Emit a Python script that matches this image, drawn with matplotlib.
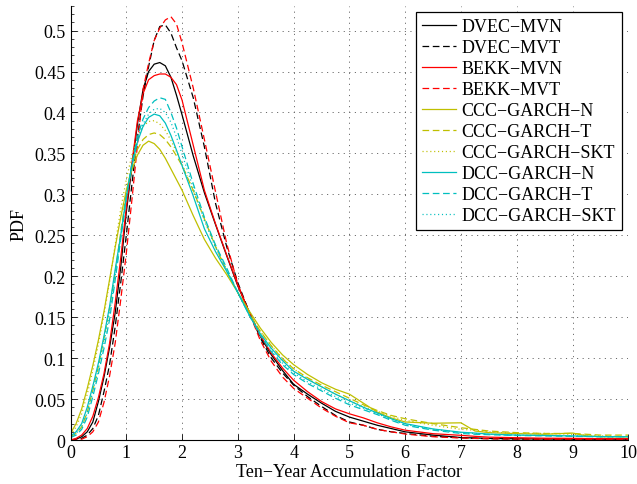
import matplotlib

matplotlib.use("Agg")
import matplotlib.pyplot as plt  # noqa: E402
from matplotlib.ticker import MultipleLocator  # noqa: E402

plt.rcParams["font.family"] = ["Liberation Serif", "DejaVu Serif"]
plt.rcParams["lines.scale_dashes"] = False

# accumulation factor grid shared by all density estimates
x_grid = [0.0, 0.1, 0.2, 0.3, 0.4, 0.5, 0.6, 0.7, 0.8, 0.9,
          1.0, 1.1, 1.2, 1.3, 1.4, 1.5, 1.6, 1.7, 1.8, 1.9,
          2.0, 2.2, 2.4, 2.6, 2.8, 3.0, 3.2, 3.4, 3.6, 3.8,
          4.0, 4.25, 4.5, 4.75, 5.0, 5.25, 5.5, 5.75, 6.0, 6.5,
          7.0, 7.25, 7.5, 8.0, 8.5, 9.0, 9.25, 9.5, 10.0]

dvec_mvn = [0.0, 0.001, 0.004, 0.010, 0.022, 0.047, 0.077, 0.113, 0.155, 0.211,
            0.278, 0.333, 0.386, 0.428, 0.450, 0.459, 0.461, 0.457, 0.443, 0.421,
            0.397, 0.347, 0.302, 0.263, 0.225, 0.188, 0.157, 0.127, 0.104, 0.085,
            0.068, 0.056, 0.045, 0.035, 0.028, 0.023, 0.018, 0.014, 0.010, 0.006,
            0.003, 0.0025, 0.002, 0.0015, 0.0012, 0.001, 0.001, 0.001, 0.001]
dvec_mvt = [0.0, 0.0, 0.002, 0.006, 0.014, 0.030, 0.059, 0.092, 0.138, 0.192,
            0.250, 0.312, 0.370, 0.420, 0.456, 0.488, 0.505, 0.507, 0.497, 0.479,
            0.463, 0.418, 0.358, 0.289, 0.236, 0.192, 0.157, 0.125, 0.100, 0.082,
            0.067, 0.053, 0.041, 0.030, 0.022, 0.018, 0.013, 0.010, 0.008, 0.0045,
            0.0028, 0.002, 0.0016, 0.0012, 0.001, 0.001, 0.001, 0.001, 0.001]
bekk_mvn = [0.0, 0.002, 0.006, 0.014, 0.029, 0.052, 0.081, 0.118, 0.167, 0.222,
            0.284, 0.338, 0.390, 0.423, 0.440, 0.445, 0.447, 0.447, 0.443, 0.434,
            0.415, 0.360, 0.305, 0.264, 0.226, 0.189, 0.156, 0.128, 0.106, 0.088,
            0.073, 0.059, 0.047, 0.038, 0.032, 0.027, 0.021, 0.016, 0.012, 0.0077,
            0.0057, 0.0045, 0.0035, 0.0028, 0.0022, 0.002, 0.0018, 0.0016, 0.0016]
bekk_mvt = [0.0, 0.0, 0.001, 0.004, 0.010, 0.022, 0.046, 0.078, 0.118, 0.171,
            0.228, 0.293, 0.360, 0.428, 0.460, 0.488, 0.503, 0.513, 0.517, 0.508,
            0.485, 0.430, 0.367, 0.303, 0.240, 0.190, 0.156, 0.122, 0.096, 0.077,
            0.063, 0.051, 0.039, 0.029, 0.021, 0.018, 0.013, 0.010, 0.0073, 0.004,
            0.0024, 0.002, 0.0015, 0.0012, 0.001, 0.001, 0.001, 0.001, 0.001]
ccc_n = [0.008, 0.020, 0.038, 0.063, 0.091, 0.122, 0.157, 0.196, 0.235, 0.272,
         0.305, 0.330, 0.348, 0.360, 0.365, 0.362, 0.355, 0.344, 0.331, 0.318,
         0.305, 0.274, 0.245, 0.222, 0.202, 0.180, 0.158, 0.137, 0.119, 0.104,
         0.092, 0.080, 0.070, 0.062, 0.056, 0.045, 0.034, 0.027, 0.022, 0.0205,
         0.021, 0.011, 0.009, 0.0078, 0.007, 0.0085, 0.005, 0.004, 0.004]
ccc_t = [0.004, 0.008, 0.016, 0.034, 0.061, 0.090, 0.124, 0.161, 0.204, 0.254,
         0.302, 0.335, 0.355, 0.367, 0.373, 0.375, 0.373, 0.367, 0.358, 0.347,
         0.335, 0.305, 0.270, 0.236, 0.206, 0.180, 0.155, 0.133, 0.115, 0.099,
         0.087, 0.076, 0.067, 0.059, 0.051, 0.043, 0.036, 0.030, 0.026, 0.020,
         0.015, 0.013, 0.011, 0.009, 0.008, 0.008, 0.007, 0.006, 0.006]
ccc_skt = [0.006, 0.016, 0.032, 0.056, 0.085, 0.117, 0.153, 0.193, 0.238, 0.282,
           0.318, 0.348, 0.370, 0.383, 0.389, 0.390, 0.386, 0.378, 0.366, 0.352,
           0.337, 0.304, 0.270, 0.237, 0.207, 0.180, 0.155, 0.133, 0.115, 0.100,
           0.087, 0.075, 0.065, 0.056, 0.048, 0.041, 0.035, 0.029, 0.024, 0.018,
           0.013, 0.012, 0.010, 0.008, 0.008, 0.007, 0.006, 0.005, 0.004]
dcc_n = [0.005, 0.010, 0.020, 0.040, 0.066, 0.094, 0.127, 0.163, 0.208, 0.250,
         0.297, 0.335, 0.364, 0.383, 0.394, 0.398, 0.396, 0.387, 0.372, 0.354,
         0.335, 0.298, 0.258, 0.230, 0.206, 0.180, 0.153, 0.130, 0.112, 0.097,
         0.084, 0.074, 0.065, 0.056, 0.048, 0.040, 0.033, 0.026, 0.020, 0.0135,
         0.0095, 0.0085, 0.0072, 0.006, 0.0055, 0.005, 0.0045, 0.0042, 0.004]
dcc_t = [0.003, 0.006, 0.013, 0.028, 0.053, 0.081, 0.112, 0.147, 0.195, 0.245,
         0.295, 0.338, 0.370, 0.392, 0.406, 0.414, 0.418, 0.416, 0.400, 0.381,
         0.358, 0.313, 0.272, 0.238, 0.210, 0.180, 0.153, 0.128, 0.108, 0.092,
         0.080, 0.069, 0.060, 0.051, 0.043, 0.037, 0.031, 0.024, 0.018, 0.012,
         0.008, 0.007, 0.0065, 0.0055, 0.005, 0.0045, 0.0042, 0.004, 0.004]
dcc_skt = [0.004, 0.008, 0.016, 0.033, 0.059, 0.087, 0.119, 0.155, 0.200, 0.248,
           0.296, 0.336, 0.366, 0.386, 0.398, 0.404, 0.405, 0.400, 0.388, 0.370,
           0.349, 0.308, 0.268, 0.235, 0.208, 0.180, 0.153, 0.129, 0.110, 0.094,
           0.082, 0.071, 0.062, 0.053, 0.045, 0.039, 0.032, 0.025, 0.019, 0.013,
           0.009, 0.008, 0.007, 0.006, 0.0055, 0.005, 0.0045, 0.004, 0.004]

model_names = ["DVEC\u2212MVN", "DVEC\u2212MVT", "BEKK\u2212MVN", "BEKK\u2212MVT",
               "CCC\u2212GARCH\u2212N", "CCC\u2212GARCH\u2212T", "CCC\u2212GARCH\u2212SKT",
               "DCC\u2212GARCH\u2212N", "DCC\u2212GARCH\u2212T", "DCC\u2212GARCH\u2212SKT"]
densities = [dvec_mvn, dvec_mvt, bekk_mvn, bekk_mvt, ccc_n, ccc_t, ccc_skt,
             dcc_n, dcc_t, dcc_skt]

x_ticks = [0, 1, 2, 3, 4, 5, 6, 7, 8, 9, 10]
y_ticks = [0, 0.05, 0.1, 0.15, 0.2, 0.25, 0.3, 0.35, 0.4, 0.45, 0.5]
y_tick_labels = ["0", "0.05", "0.1", "0.15", "0.2", "0.25", "0.3", "0.35",
                 "0.4", "0.45", "0.5"]

# line look: MATLAB-like colours, solid / dashed / dotted per distribution
SOLID = "-"
DASHED = (0, (4.8, 2.6))
DOTTED = (0, (0.8, 2.0))
YELLOW = (0.75, 0.75, 0.0)
CYAN = (0.0, 0.75, 0.75)
styles = [("k", SOLID), ("k", DASHED), ("r", SOLID), ("r", DASHED),
          (YELLOW, SOLID), (YELLOW, DASHED), (YELLOW, DOTTED),
          (CYAN, SOLID), (CYAN, DASHED), (CYAN, DOTTED)]

fig = plt.figure(figsize=(6.37, 4.85), dpi=100, facecolor="white")
ax = fig.add_axes([0.1107, 0.0907, 0.8757, 0.8948])

for name, dens, (color, ls) in zip(model_names, densities, styles):
    ax.plot(x_grid, dens, color=color, linestyle=ls, linewidth=0.9, label=name)

ax.set_xlim(0, 10)
ax.set_ylim(0, 0.53)
ax.set_xticks(x_ticks)
ax.set_xticklabels([str(t) for t in x_ticks])
ax.set_yticks(y_ticks)
ax.set_yticklabels(y_tick_labels)
ax.yaxis.set_minor_locator(MultipleLocator(0.01))
ax.tick_params(which="both", direction="in", labelsize=13, top=False, right=False)
ax.tick_params(which="major", length=4, width=0.6)
ax.tick_params(which="minor", length=2, width=0.5)
ax.tick_params(axis="x", pad=3)

ax.grid(True, which="major", color="#666666", linestyle=(0, (0.8, 3.2)), linewidth=0.7)
for side in ("top", "right"):
    ax.spines[side].set_visible(False)
for side in ("left", "bottom"):
    ax.spines[side].set_linewidth(0.8)

ax.set_xlabel("Ten\u2212Year Accumulation Factor", fontsize=13, labelpad=1)
ax.set_ylabel("PDF", fontsize=13, labelpad=5)

leg = ax.legend(loc="upper right", fontsize=13, frameon=True, fancybox=False,
                edgecolor="black", framealpha=1.0, borderaxespad=0.35,
                handlelength=1.9, handletextpad=0.3, labelspacing=0.22,
                borderpad=0.32)
leg.get_frame().set_linewidth(0.9)

fig.savefig("out.png", dpi=100, facecolor="white")
